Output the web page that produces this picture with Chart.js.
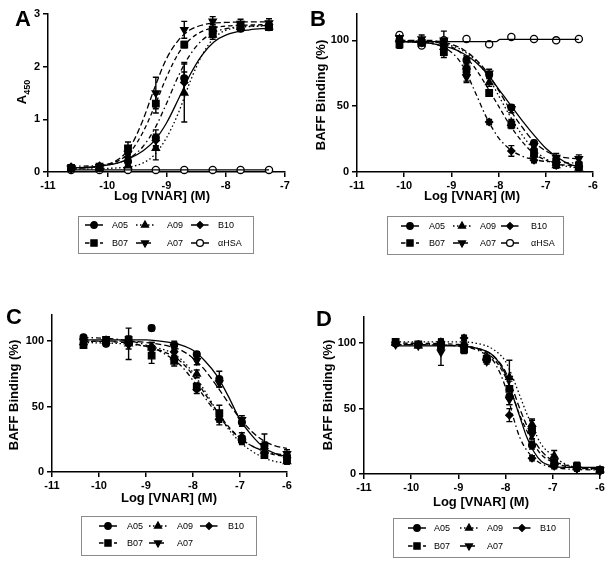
<!DOCTYPE html>
<html>
<head>
<meta charset="utf-8">
<script src="https://cdn.jsdelivr.net/npm/chart.js@4.4.1/dist/chart.umd.min.js"></script>
<style>
  body { margin: 0; background: #fff; width: 614px; height: 567px; position: relative; overflow: hidden;
         font-family: "Liberation Sans", Arial, sans-serif; color: #000; }
  canvas.plot { position: absolute; }
  .letter { position: absolute; font-weight: bold; font-size: 22px; line-height: 1; }
  .xt { position: absolute; font-weight: bold; font-size: 13px; white-space: nowrap; transform: translate(-50%, -50%); }
  .yt { position: absolute; font-weight: bold; font-size: 13px; white-space: nowrap; transform: translate(-50%, -50%) rotate(-90deg); }
  .yt sub { font-size: 9px; }
  .legend { position: absolute; border: 1px solid #8a8a8a; box-sizing: border-box; }
  .legend canvas { position: absolute; left: 0; top: 0; }
  .legend span { position: absolute; font-size: 9px; transform: translateY(-50%); white-space: nowrap; }
</style>
</head>
<body>
<canvas class="plot" id="chartA" width="300" height="200" style="left:0;top:0"></canvas>
<canvas class="plot" id="chartB" width="314" height="200" style="left:300px;top:0"></canvas>
<canvas class="plot" id="chartC" width="300" height="200" style="left:0;top:300px"></canvas>
<canvas class="plot" id="chartD" width="314" height="202" style="left:300px;top:300px"></canvas>

<div class="letter" style="left:15px;top:8px">A</div>
<div class="letter" style="left:310px;top:8px">B</div>
<div class="letter" style="left:6px;top:306px">C</div>
<div class="letter" style="left:316px;top:308px">D</div>

<div class="xt" style="left:162px;top:195px">Log [VNAR] (M)</div>
<div class="xt" style="left:472px;top:195px">Log [VNAR] (M)</div>
<div class="xt" style="left:169px;top:497px">Log [VNAR] (M)</div>
<div class="xt" style="left:481px;top:501px">Log [VNAR] (M)</div>

<div class="yt" style="left:23px;top:92px">A<sub>450</sub></div>
<div class="yt" style="left:320px;top:95px">BAFF Binding (%)</div>
<div class="yt" style="left:13px;top:395px">BAFF Binding (%)</div>
<div class="yt" style="left:327px;top:395px">BAFF Binding (%)</div>

<script>
// ---- Panel A: ELISA binding (A450) ----
const aX = [-10.61, -10.13, -9.65, -9.18, -8.70, -8.22, -7.75, -7.27];
const aA05 = [0.06, 0.07, 0.2, 0.65, 1.78, 2.62, 2.72, 2.75];
const aA05Err = [0.02, 0.02, 0.08, 0.15, 0.3, 0.06, 0.05, 0.05];
const aA09 = [0.05, 0.06, 0.12, 0.45, 1.5, 2.6, 2.75, 2.76];
const aA09Err = [0.02, 0.02, 0.06, 0.22, 0.55, 0.08, 0.05, 0.05];
const aB10 = [0.1, 0.12, 0.28, 0.6, 1.7, 2.68, 2.78, 2.8];
const aB10Err = [0.02, 0.02, 0.08, 0.12, 0.2, 0.08, 0.05, 0.05];
const aB07 = [0.08, 0.1, 0.45, 1.3, 2.42, 2.7, 2.78, 2.75];
const aB07Err = [0.02, 0.03, 0.12, 0.18, 0.06, 0.1, 0.08, 0.06];
const aA07 = [0.07, 0.1, 0.35, 1.5, 2.7, 2.86, 2.82, 2.83];
const aA07Err = [0.02, 0.03, 0.15, 0.3, 0.16, 0.09, 0.08, 0.08];
const aHSA = [0.04, 0.04, 0.04, 0.04, 0.04, 0.04, 0.04, 0.04];
// fitted curves
const aFitX = [-10.61, -10.2, -9.8, -9.6, -9.4, -9.2, -9.0, -8.8, -8.6, -8.4, -8.2, -8.0, -7.6, -7.27];
const aFitA05 = [0.08, 0.1, 0.18, 0.27, 0.4, 0.6, 0.93, 1.38, 1.85, 2.22, 2.47, 2.6, 2.7, 2.73];
const aFitA09 = [0.05, 0.06, 0.08, 0.1, 0.17, 0.33, 0.65, 1.12, 1.72, 2.22, 2.54, 2.69, 2.76, 2.77];
const aFitB10 = [0.11, 0.12, 0.18, 0.28, 0.48, 0.82, 1.3, 1.82, 2.23, 2.5, 2.65, 2.72, 2.77, 2.78];
const aFitB07 = [0.07, 0.1, 0.22, 0.4, 0.75, 1.25, 1.8, 2.25, 2.52, 2.67, 2.74, 2.77, 2.79, 2.8];
const aFitA07 = [0.07, 0.1, 0.25, 0.5, 0.98, 1.6, 2.15, 2.5, 2.7, 2.79, 2.83, 2.84, 2.85, 2.85];
const aFitHSAX = [-10.61, -7.27];
const aFitHSA = [0.04, 0.04];

// ---- Panel B: BAFF binding (%) ----
const bX = [-10.1, -9.63, -9.16, -8.68, -8.2, -7.73, -7.25, -6.78, -6.3];
const bA05 = [100, 99, 96, 85, 74, 49, 22, 7, 4];
const bA05Err = [2, 2, 3, 3, 2, 2, 2, 2, 2];
const bA09 = [101, 99, 95, 80, 68, 37, 13, 5, 3];
const bA09Err = [2, 2, 4, 4, 3, 3, 2, 2, 2];
const bB10 = [99, 98, 93, 74, 38, 16, 9, 5, 4];
const bB10Err = [2, 2, 4, 5, 2, 4, 2, 2, 1];
const bB07 = [97, 98, 91, 78, 60, 36, 15, 8, 5];
const bB07Err = [3, 2, 4, 5, 2, 3, 3, 2, 3];
const bA07 = [102, 101, 100, 72, 75, 48, 20, 11, 10];
const bA07Err = [2, 3, 7, 4, 3, 3, 2, 3, 3];
const bHSA = [104, 96, 100, 101, 97, 102.5, 101, 100, 101];
const bFitX = [-10.1, -9.5, -9.0, -8.75, -8.5, -8.25, -8.0, -7.75, -7.5, -7.25, -7.0, -6.75, -6.5, -6.3];
const bFitA05 = [99, 98, 94, 90, 84, 75, 63, 51, 39, 28, 18, 11, 6, 4];
const bFitA09 = [100, 99, 96, 92, 85, 74, 58, 42, 28, 17, 10, 6, 4, 3];
const bFitB10 = [99, 98, 91, 80, 61, 41, 26, 17, 12, 9.5, 8, 7.5, 7, 7];
const bFitB07 = [99, 99, 95, 89, 79, 65, 50, 35, 23, 14, 9, 6, 5, 4];
const bFitA07 = [100, 100, 97, 93, 86, 76, 62, 47, 34, 23, 16, 12, 10.5, 10];
const bFitHSAX = [-10.1, -8.05, -7.97, -6.3];
const bFitHSA = [99, 99, 100.7, 100.7];

// ---- Panel C ----
const cX = [-10.33, -9.85, -9.37, -8.88, -8.4, -7.92, -7.44, -6.96, -6.48, -6.0];
const cA05 = [103, 98, 99, 110, 97, 90, 71, 38, 20, 12];
const cA05Err = [1, 2, 2, 2, 3, 2, 6, 3, 3, 2];
const cA09 = [99, 100, 98, 95, 88, 75, 42, 27, 16, 8];
const cA09Err = [2, 2, 12, 4, 3, 3, 4, 3, 3, 2];
const cB10 = [101, 101, 100, 96, 92, 63, 40, 24, 18, 11];
const cB10Err = [2, 2, 3, 3, 3, 3, 4, 3, 3, 3];
const cB07 = [97, 101, 101, 89, 85, 65, 45, 25, 13, 10];
const cB07Err = [2, 2, 3, 6, 4, 3, 6, 3, 2, 4];
const cA07 = [100, 99, 97, 93, 96, 85, 68, 40, 20, 14];
const cA07Err = [2, 2, 3, 3, 3, 3, 3, 3, 9, 3];
const cFitX = [-10.33, -9.5, -9.0, -8.5, -8.25, -8.0, -7.75, -7.5, -7.25, -7.0, -6.75, -6.5, -6.25, -6.0];
const cFitA05 = [101, 101, 101, 99, 97, 93, 85, 74, 58, 40, 28, 19, 14, 12];
const cFitA09 = [99, 98, 96, 92, 86, 76, 62, 47, 33, 23, 16, 11, 8, 7];
const cFitB10 = [103, 101, 97, 88, 81, 70, 57, 45, 34, 26, 20, 16, 14, 13];
const cFitB07 = [100, 99, 96, 90, 84, 74, 60, 47, 35, 26, 20, 16, 13, 12];
const cFitA07 = [100, 100, 99, 96, 93, 87, 78, 66, 53, 41, 31, 24, 20, 18];

// ---- Panel D ----
const dX = [-10.33, -9.85, -9.37, -8.88, -8.4, -7.92, -7.44, -6.97, -6.49, -6.0];
const dA05 = [100, 99, 99, 98, 88, 59, 22, 7, 5, 3];
const dA05Err = [1, 1, 2, 2, 2, 6, 3, 2, 2, 1];
const dA09 = [100, 98, 100, 99, 89, 74, 38, 14, 5, 3];
const dA09Err = [1, 1, 3, 2, 2, 13, 4, 4, 2, 1];
const dB10 = [99, 99, 101, 104, 87, 45, 12, 6, 4, 2];
const dB10Err = [1, 1, 2, 2, 2, 5, 2, 2, 1, 1];
const dB07 = [101, 99, 98, 95, 88, 65, 34, 8, 6, 3];
const dB07Err = [2, 1, 3, 3, 2, 6, 7, 3, 3, 2];
const dA07 = [99, 98, 93, 97, 86, 57, 30, 10, 4, 3];
const dA07Err = [1, 1, 10, 3, 2, 4, 3, 3, 2, 1];
const dFitX = [-10.33, -9.0, -8.5, -8.25, -8.0, -7.85, -7.7, -7.55, -7.4, -7.25, -7.0, -6.75, -6.5, -6.0];
const dFitA05 = [98, 98, 95, 90, 76, 60, 44, 28, 17, 10, 6, 5, 5, 5];
const dFitA09 = [101, 101, 99, 95, 86, 74, 60, 46, 34, 23, 14, 8, 5, 3];
const dFitB10 = [99, 98, 93, 86, 66, 45, 28, 18, 12, 8, 5, 4, 3.5, 3];
const dFitB07 = [100, 99, 94, 88, 74, 60, 45, 33, 23, 15, 9, 6, 5, 4];
const dFitA07 = [99, 98, 95, 90, 78, 65, 50, 37, 26, 18, 10, 7, 5, 4];

// marker / line look per clone
const styles = {
  'A05':  { ps: 'circle',   r: 3.4, rot: 0,   dash: [],             fill: '#000' },
  'A09':  { ps: 'triangle', r: 4.2, rot: 0,   dash: [1.5, 2.5],     fill: '#000' },
  'B10':  { ps: 'rectRot',  r: 3.6, rot: 0,   dash: [5, 3, 1.5, 3], fill: '#000' },
  'B07':  { ps: 'rect',     r: 4.6, rot: 0,   dash: [4.5, 3],       fill: '#000' },
  'A07':  { ps: 'triangle', r: 4.2, rot: 180, dash: [6, 3],         fill: '#000' },
  'αHSA': { ps: 'circle',   r: 3.6, rot: 0,   dash: [],             fill: '#fff' }
};

const FONT = '"Liberation Sans", Arial, sans-serif';

function pts(xs, ys) {
  return xs.map((x, i) => ({ x: x, y: ys[i] }));
}

function buildDatasets(series) {
  const out = [];
  series.forEach(s => {
    const st = styles[s.name];
    out.push({
      label: s.name + ' fit',
      data: pts(s.fx, s.fy),
      showLine: true,
      borderColor: '#000',
      borderWidth: 1.3,
      borderDash: st.dash,
      pointRadius: 0,
      tension: 0.4,
      cubicInterpolationMode: 'monotone',
      clip: false
    });
    out.push({
      label: s.name,
      data: pts(s.x, s.y),
      errs: s.err,
      showLine: false,
      pointStyle: st.ps,
      pointRotation: st.rot,
      pointRadius: st.r,
      pointBackgroundColor: st.fill,
      pointBorderColor: '#000',
      pointBorderWidth: 1.3,
      clip: false
    });
  });
  return out;
}

const errorBars = {
  id: 'errorBars',
  beforeDatasetsDraw(chart) {
    const ctx = chart.ctx, xs = chart.scales.x, ys = chart.scales.y;
    ctx.save();
    ctx.strokeStyle = '#000';
    ctx.lineWidth = 1.4;
    chart.data.datasets.forEach(ds => {
      if (!ds.errs) return;
      ds.data.forEach((p, i) => {
        const e = ds.errs[i];
        if (!e) return;
        const px = xs.getPixelForValue(p.x);
        const y1 = ys.getPixelForValue(p.y + e);
        const y2 = ys.getPixelForValue(p.y - e);
        ctx.beginPath();
        ctx.moveTo(px, y1); ctx.lineTo(px, y2);
        ctx.moveTo(px - 3, y1); ctx.lineTo(px + 3, y1);
        ctx.moveTo(px - 3, y2); ctx.lineTo(px + 3, y2);
        ctx.stroke();
      });
    });
    ctx.restore();
  }
};

function makeChart(id, series, cfg) {
  const axisGrid = { drawOnChartArea: false, color: '#000', lineWidth: 1.5, tickLength: 5 };
  const tickFont = { family: FONT, size: 11, weight: 'bold' };
  new Chart(document.getElementById(id), {
    type: 'scatter',
    data: { datasets: buildDatasets(series) },
    options: {
      responsive: false,
      animation: false,
      events: [],
      layout: { padding: { left: 0, top: cfg.pt, right: cfg.pr, bottom: 0 } },
      plugins: { legend: { display: false }, tooltip: { enabled: false } },
      scales: {
        x: {
          type: 'linear', min: -11, max: cfg.xmax,
          afterFit(s) { s.height = 28; },
          ticks: { stepSize: 1, color: '#000', font: tickFont, padding: 2, maxRotation: 0 },
          grid: axisGrid,
          border: { color: '#000', width: 1.5 }
        },
        y: {
          type: 'linear', min: 0, max: cfg.ymax,
          afterFit(s) { s.width = cfg.yw; },
          afterBuildTicks(s) { s.ticks = s.ticks.filter(t => t.value <= cfg.ytop); },
          ticks: { stepSize: cfg.step, color: '#000', font: tickFont, padding: 3 },
          grid: axisGrid,
          border: { color: '#000', width: 1.5 }
        }
      }
    },
    plugins: [errorBars]
  });
}

makeChart('chartA', [
  { name: 'A05', x: aX, y: aA05, err: aA05Err, fx: aFitX, fy: aFitA05 },
  { name: 'A09', x: aX, y: aA09, err: aA09Err, fx: aFitX, fy: aFitA09 },
  { name: 'B10', x: aX, y: aB10, err: aB10Err, fx: aFitX, fy: aFitB10 },
  { name: 'B07', x: aX, y: aB07, err: aB07Err, fx: aFitX, fy: aFitB07 },
  { name: 'A07', x: aX, y: aA07, err: aA07Err, fx: aFitX, fy: aFitA07 },
  { name: 'αHSA', x: aX, y: aHSA, err: null, fx: aFitHSAX, fy: aFitHSA }
], { pt: 14, pr: 15, yw: 48, xmax: -7, ymax: 3, ytop: 3, step: 1 });

makeChart('chartB', [
  { name: 'A05', x: bX, y: bA05, err: bA05Err, fx: bFitX, fy: bFitA05 },
  { name: 'A09', x: bX, y: bA09, err: bA09Err, fx: bFitX, fy: bFitA09 },
  { name: 'B10', x: bX, y: bB10, err: bB10Err, fx: bFitX, fy: bFitB10 },
  { name: 'B07', x: bX, y: bB07, err: bB07Err, fx: bFitX, fy: bFitB07 },
  { name: 'A07', x: bX, y: bA07, err: bA07Err, fx: bFitX, fy: bFitA07 },
  { name: 'αHSA', x: bX, y: bHSA, err: null, fx: bFitHSAX, fy: bFitHSA }
], { pt: 14, pr: 21, yw: 57, xmax: -6, ymax: 120, ytop: 100, step: 50 });

makeChart('chartC', [
  { name: 'A05', x: cX, y: cA05, err: cA05Err, fx: cFitX, fy: cFitA05 },
  { name: 'A09', x: cX, y: cA09, err: cA09Err, fx: cFitX, fy: cFitA09 },
  { name: 'B10', x: cX, y: cB10, err: cB10Err, fx: cFitX, fy: cFitB10 },
  { name: 'B07', x: cX, y: cB07, err: cB07Err, fx: cFitX, fy: cFitB07 },
  { name: 'A07', x: cX, y: cA07, err: cA07Err, fx: cFitX, fy: cFitA07 }
], { pt: 15, pr: 13, yw: 52, xmax: -6, ymax: 120, ytop: 100, step: 50 });

makeChart('chartD', [
  { name: 'A05', x: dX, y: dA05, err: dA05Err, fx: dFitX, fy: dFitA05 },
  { name: 'A09', x: dX, y: dA09, err: dA09Err, fx: dFitX, fy: dFitA09 },
  { name: 'B10', x: dX, y: dB10, err: dB10Err, fx: dFitX, fy: dFitB10 },
  { name: 'B07', x: dX, y: dB07, err: dB07Err, fx: dFitX, fy: dFitB07 },
  { name: 'A07', x: dX, y: dA07, err: dA07Err, fx: dFitX, fy: dFitA07 }
], { pt: 17, pr: 14, yw: 64, xmax: -6, ymax: 120, ytop: 100, step: 50 });

// ---- legends (boxes under each panel) ----
function makeLegend(box, symX, textX, rowY, names) {
  const div = document.createElement('div');
  div.className = 'legend';
  div.style.left = box[0] + 'px';
  div.style.top = box[1] + 'px';
  div.style.width = box[2] + 'px';
  div.style.height = box[3] + 'px';
  const cv = document.createElement('canvas');
  cv.width = box[2]; cv.height = box[3];
  div.appendChild(cv);
  const ctx = cv.getContext('2d');
  names.forEach((n, i) => {
    const col = i % 3, row = Math.floor(i / 3);
    const cx = symX[col] - box[0] - 1, cy = rowY[row] - box[1] - 1;
    const st = styles[n];
    ctx.save();
    ctx.strokeStyle = '#000';
    ctx.lineWidth = 1.5;
    ctx.setLineDash(st.dash);
    ctx.beginPath(); ctx.moveTo(cx - 9, cy); ctx.lineTo(cx + 9, cy); ctx.stroke();
    ctx.setLineDash([]);
    ctx.fillStyle = st.fill;
    ctx.lineWidth = 1.3;
    Chart.helpers.drawPoint(ctx, { pointStyle: st.ps, rotation: st.rot, radius: st.r * 0.95, borderWidth: 1.3 }, cx, cy);
    ctx.restore();
    const sp = document.createElement('span');
    sp.textContent = n;
    sp.style.left = (textX[col] - box[0] - 1) + 'px';
    sp.style.top = (rowY[row] - box[1] - 1) + 'px';
    div.appendChild(sp);
  });
  document.body.appendChild(div);
}

const legendNames6 = ['A05', 'A09', 'B10', 'B07', 'A07', 'αHSA'];
const legendNames5 = ['A05', 'A09', 'B10', 'B07', 'A07'];
makeLegend([78, 216, 176, 38], [94, 145, 200], [112, 167, 218], [225, 243], legendNames6);
makeLegend([387, 216, 177, 39], [410, 462, 510], [429, 480, 531], [226, 243], legendNames6);
makeLegend([81, 516, 176, 40], [108, 158, 209], [127, 177, 228], [526, 543], legendNames5);
makeLegend([393, 518, 177, 40], [417, 469, 522], [434, 487, 540], [528, 546], legendNames5);
</script>
</body>
</html>
